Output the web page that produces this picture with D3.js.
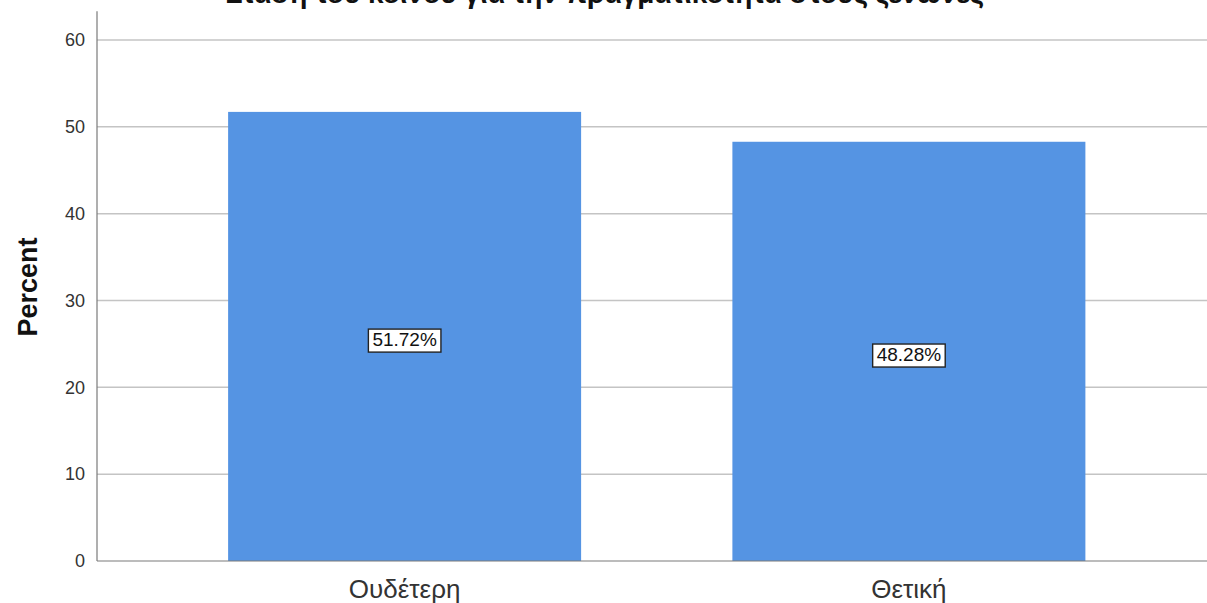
<!DOCTYPE html>
<html>
<head>
<meta charset="utf-8">
<script src="https://cdn.jsdelivr.net/npm/d3@7"></script>
<style>
  body { margin: 0; background: #fff; }
  svg { display: block; font-family: Arial, "Liberation Sans", sans-serif; }
</style>
</head>
<body>
<svg width="1207" height="603"></svg>
<script>
const categories = ['Ουδέτερη', 'Θετική'];
const percents = [51.72, 48.28];
const yTicks = [0, 10, 20, 30, 40, 50, 60];
const title = 'Στάση του κοινού για την πραγματικότητα στους ξενώνες';

const svg = d3.select('svg');
const left = 97, bottom = 561;

let x = d3.scaleBand()
  .domain(categories)
  .range([left, 1216.5])
  .paddingInner(0.3)
  .paddingOuter(0.26);

let y = d3.scaleLinear().domain([0, 60]).range([bottom, 40]);

// gridlines
svg.append('g')
  .selectAll('line')
  .data(yTicks.filter(d => d > 0))
  .join('line')
  .attr('x1', left).attr('x2', 1207)
  .attr('y1', d => y(d)).attr('y2', d => y(d))
  .attr('stroke', '#c4c4c4').attr('stroke-width', 1.5);

// bars
svg.append('g')
  .selectAll('rect')
  .data(percents)
  .join('rect')
  .attr('x', (d, i) => x(categories[i]))
  .attr('width', x.bandwidth())
  .attr('y', d => y(d))
  .attr('height', d => bottom - y(d))
  .attr('fill', '#5594e3');

// axis lines
svg.append('line')
  .attr('x1', left).attr('x2', left)
  .attr('y1', y(63.3)).attr('y2', bottom)
  .attr('stroke', '#7a7a7a').attr('stroke-width', 1.2);
svg.append('line')
  .attr('x1', left).attr('x2', 1207)
  .attr('y1', bottom).attr('y2', bottom)
  .attr('stroke', '#7a7a7a').attr('stroke-width', 1.2);

// y tick labels
svg.append('g')
  .selectAll('text')
  .data(yTicks)
  .join('text')
  .attr('x', 85)
  .attr('y', d => y(d))
  .attr('dy', '0.35em')
  .attr('text-anchor', 'end')
  .attr('font-size', 18)
  .attr('fill', '#333')
  .text(d => d);

// x labels
svg.append('g')
  .selectAll('text')
  .data(categories)
  .join('text')
  .attr('x', d => x(d) + x.bandwidth() / 2)
  .attr('y', 598)
  .attr('text-anchor', 'middle')
  .attr('font-size', 26)
  .attr('fill', '#333')
  .text(d => d);

// y title
svg.append('text')
  .attr('transform', 'translate(37,287) rotate(-90)')
  .attr('text-anchor', 'middle')
  .attr('font-size', 27)
  .attr('font-weight', 'bold')
  .attr('fill', '#111')
  .text('Percent');

// title, cut off at the top as in the source
svg.append('text')
  .attr('x', 605)
  .attr('y', 3)
  .attr('text-anchor', 'middle')
  .attr('font-size', 28)
  .attr('font-weight', 'bold')
  .attr('fill', '#111')
  .text(title);

// value labels
percents.forEach((d, i) => {
  let g = svg.append('g');
  let cx = x(categories[i]) + x.bandwidth() / 2;
  let cy = y(d / 2) + 3;
  let t = g.append('text')
    .attr('x', cx).attr('y', cy)
    .attr('dy', '0.35em')
    .attr('text-anchor', 'middle')
    .attr('font-size', 19)
    .attr('fill', '#111')
    .text(d.toFixed(2) + '%');
  let b = t.node().getBBox();
  g.insert('rect', 'text')
    .attr('x', b.x - 4).attr('y', b.y)
    .attr('width', b.width + 8).attr('height', b.height + 2)
    .attr('fill', '#fff')
    .attr('stroke', '#222').attr('stroke-width', 1.4);
});
</script>
</body>
</html>
